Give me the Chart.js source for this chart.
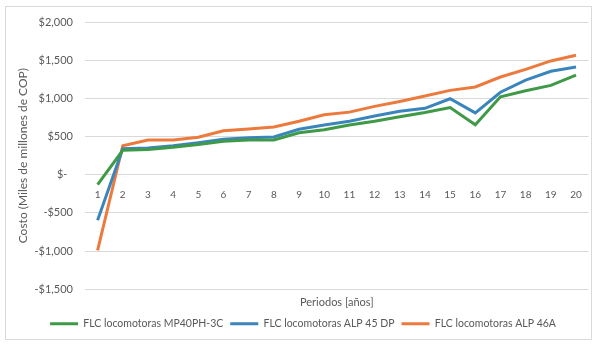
<!DOCTYPE html>
<html lang="es">
<head>
<meta charset="utf-8">
<title>Costo acumulado por periodo</title>
<script src="https://cdn.jsdelivr.net/npm/chart.js@4/dist/chart.umd.min.js"></script>
<style>
  html, body { margin: 0; padding: 0; background: #ffffff; }
  #wrap { position: relative; width: 596px; height: 344px; }
  #frame { position: absolute; left: 5px; top: 6px; width: 587px; height: 334px;
           border: 1px solid #d9d9d9; box-sizing: border-box; pointer-events: none; }
  canvas { position: absolute; left: 0; top: 0; }
</style>
</head>
<body>
<div id="wrap">
  <canvas id="chart" width="596" height="344"></canvas>
  <div id="frame"></div>
</div>
<script>
// Periods (years)
const periodos = ['1','2','3','4','5','6','7','8','9','10','11','12','13','14','15','16','17','18','19','20'];

// Cost per period, thousands of millions of COP
const mp40ph3c = [-130, 320, 330, 360, 395, 440, 455, 455, 550, 590, 650, 700, 760, 815, 880, 655, 1020, 1100, 1170, 1305];
const alp45dp  = [-595, 340, 350, 380, 420, 465, 485, 495, 595, 650, 700, 770, 830, 870, 995, 810, 1080, 1240, 1355, 1410];
const alp46a   = [-990, 380, 455, 455, 490, 575, 600, 625, 700, 785, 820, 895, 960, 1030, 1105, 1150, 1280, 1380, 1490, 1565];

const nombres = ['FLC locomotoras MP40PH-3C', 'FLC locomotoras ALP 45 DP', 'FLC locomotoras ALP 46A'];
const colores = ['#3f9a48', '#3b85bd', '#ec7a3c'];

const yMin = -1500, yMax = 2000, yStep = 500;

const FONT = 'Lato, "Open Sans", sans-serif';
const TEXT = '#595959';
const GRID = '#d9d9d9';

function moneda(v) {
  if (v === 0) return '$-  ';
  const s = Math.abs(v).toLocaleString('en-US');
  return (v < 0 ? '-$' : '$') + s;
}

const series = [mp40ph3c, alp45dp, alp46a];

new Chart(document.getElementById('chart'), {
  type: 'line',
  data: {
    labels: periodos,
    datasets: series.map((d, i) => ({
      label: nombres[i],
      data: d,
      borderColor: colores[i],
      backgroundColor: colores[i],
      borderWidth: 3,
      pointRadius: 0,
      tension: 0,
      xAxisID: 'x'
    }))
  },
  options: {
    responsive: false,
    animation: false,
    layout: { padding: { left: 16, right: 6, top: 22, bottom: 5 } },
    plugins: {
      tooltip: { enabled: false },
      legend: {
        position: 'bottom',
        labels: {
          boxWidth: 28,
          boxHeight: 3,
          padding: 7,
          color: TEXT,
          font: { family: FONT, size: 10.5 },
          // thin line swatches: fill only, no outline
          generateLabels(chart) {
            return Chart.defaults.plugins.legend.labels.generateLabels(chart)
              .map(item => Object.assign(item, { lineWidth: 0 }));
          }
        }
      }
    },
    scales: {
      x: {
        type: 'category',
        position: { y: 0 },
        offset: true,
        grid: { display: false, drawTicks: false },
        border: { display: false },
        ticks: { color: TEXT, font: { family: FONT, size: 10 }, padding: 14, maxRotation: 0, autoSkip: false }
      },
      x2: {
        type: 'category',
        position: 'bottom',
        labels: periodos,
        offset: true,
        grid: { display: false, drawTicks: false },
        border: { display: false },
        ticks: { display: false },
        title: { display: true, text: 'Periodos [años]', color: TEXT, font: { family: FONT, size: 11 }, padding: { top: 7, bottom: 2 } }
      },
      y: {
        min: yMin,
        max: yMax,
        afterFit(scale) { scale.width = 69; },
        grid: { color: GRID, lineWidth: 1, drawTicks: false },
        border: { display: false },
        ticks: { stepSize: yStep, color: TEXT, font: { family: FONT, size: 11 }, padding: 12, callback: moneda },
        title: { display: true, text: 'Costo (Miles de millones de COP)', color: TEXT, font: { family: FONT, size: 12 }, padding: { top: 0, bottom: 0 } }
      }
    }
  }
});
</script>
</body>
</html>
